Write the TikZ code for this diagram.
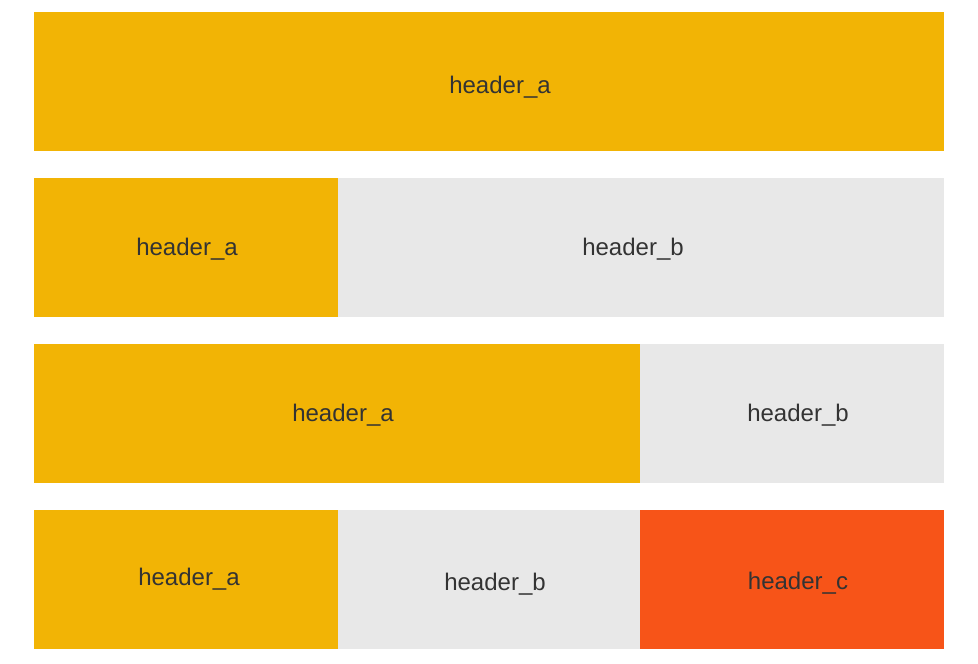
\documentclass[tikz,border=0pt]{standalone}
\usepackage{fontspec}
\setmainfont{Liberation Sans}
\definecolor{cyel}{HTML}{F2B405}
\definecolor{cgray}{HTML}{E8E8E8}
\definecolor{cred}{HTML}{F75418}
\definecolor{ctxt}{HTML}{333333}
\begin{document}
\begin{tikzpicture}[x=1pt,y=-1pt,
  lbl/.style={anchor=base,text=ctxt,font=\fontsize{24}{28}\selectfont,inner sep=0pt}]
\useasboundingbox (0,0) rectangle (978,664);
% row 1
\fill[cyel] (34,12) rectangle (944,151);
\node[lbl] (r1a) at (500,93) {header\_a};
% row 2
\fill[cyel] (34,178) rectangle (338,317);
\fill[cgray] (338,178) rectangle (944,317);
\node[lbl] (r2a) at (187,255) {header\_a};
\node[lbl] (r2b) at (633,255) {header\_b};
% row 3
\fill[cyel] (34,344) rectangle (640,483);
\fill[cgray] (640,344) rectangle (944,483);
\node[lbl] (r3a) at (343,421) {header\_a};
\node[lbl] (r3b) at (798,421) {header\_b};
% row 4
\fill[cyel] (34,510) rectangle (338,649);
\fill[cgray] (338,510) rectangle (640,649);
\fill[cred] (640,510) rectangle (944,649);
\node[lbl] (r4a) at (189,585) {header\_a};
\node[lbl] (r4b) at (495,590) {header\_b};
\node[lbl] (r4c) at (798,589) {header\_c};
\end{tikzpicture}
\end{document}
